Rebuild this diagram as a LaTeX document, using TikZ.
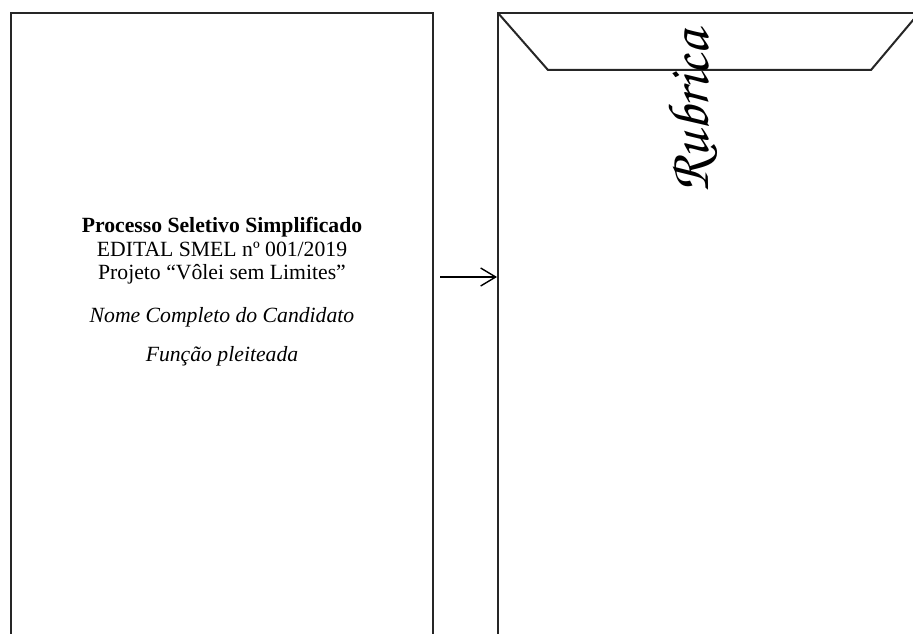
\documentclass[tikz,border=0pt]{standalone}
\usepackage{fontspec}
\setmainfont{Liberation Serif}
\usetikzlibrary{arrows.meta}

\tikzset{
  folha/.style={black!85, line width=2pt},
  texto/.style={font=\fontsize{21.7}{23.5}\selectfont, align=center, inner sep=0pt},
  rubrica/.style={font=\fontsize{58}{58}\usefont{T1}{pzc}{mb}{it}, rotate=90, inner sep=0pt}
}

\begin{document}
\begin{tikzpicture}[x=1pt, y=-1pt]

\useasboundingbox (0,0) rectangle (913,634);
\clip (0,0) rectangle (913,634);

% folha de rosto
\draw [folha] (11,13) rectangle (433,700);
\node (titulo) at (222,251) [texto] {\textbf{Processo Seletivo Simplificado}\\EDITAL SMEL nº 001/2019\\Projeto “Vôlei sem Limites”};
\node (nome) at (222,317) [texto] {\itshape Nome Completo do Candidato};
\node (funcao) at (222,356) [texto] {\itshape Função pleiteada};

% envelope
\draw [folha] (498,13) rectangle (919,700);
\draw [folha, line join=miter] (498,13) -- (548,70) -- (871,70) -- (919,13);
\node (assinatura) at (693,112) [rubrica] {Rubrica};

% seta
\coordinate (setaA) at (440,277);
\coordinate (setaB) at (497,277);
\draw [black, line width=1.4pt, -{Straight Barb[length=15pt, width=18pt]}] (setaA) -- (setaB);

\end{tikzpicture}
\end{document}
